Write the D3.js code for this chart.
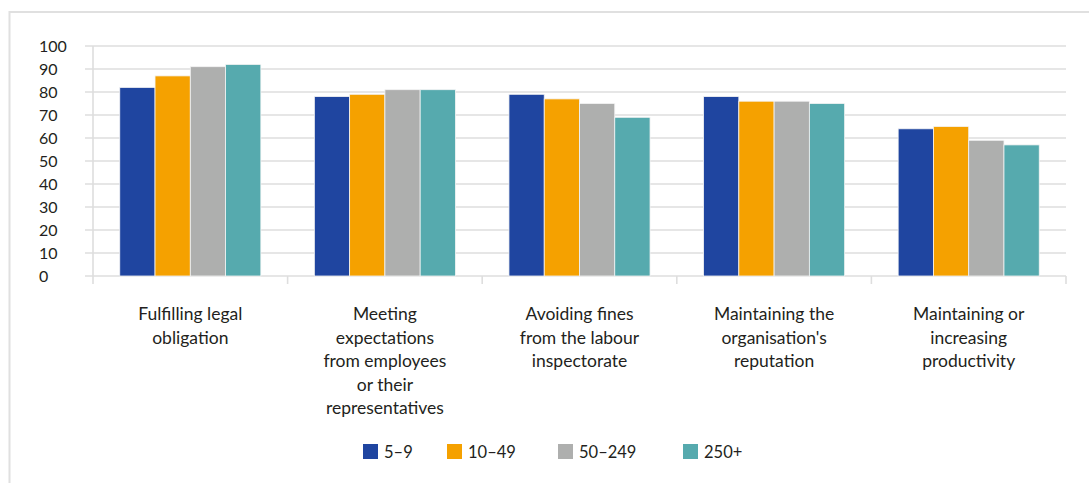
<!DOCTYPE html>
<html>
<head>
<meta charset="utf-8">
<script src="https://cdn.jsdelivr.net/npm/d3@7"></script>
<style>
  body { margin: 0; background: #fff; }
  text { font-family: "Lato", "Open Sans", sans-serif; fill: #231f20; }
</style>
</head>
<body>
<div id="chart"></div>
<script>
// chart data
const categories = [
  ['Fulfilling legal', 'obligation'],
  ['Meeting', 'expectations', 'from employees', 'or their', 'representatives'],
  ['Avoiding fines', 'from the labour', 'inspectorate'],
  ['Maintaining the', "organisation's", 'reputation'],
  ['Maintaining or', 'increasing', 'productivity']
];
const seriesNames = ['5\u20139', '10\u201349', '50\u2013249', '250+'];
const s5to9    = [82, 78, 79, 78, 64];
const s10to49  = [87, 79, 77, 76, 65];
const s50to249 = [91, 81, 75, 76, 59];
const s250plus = [92, 81, 69, 75, 57];
const yTicks = [0, 10, 20, 30, 40, 50, 60, 70, 80, 90, 100];
const colors = ['#1f45a0', '#f5a100', '#aeafae', '#56aaae'];

const width = 1089;
const height = 483;
const margin = {left: 93, right: 23, top: 46, bottom: 207};

const svg = d3.select('#chart')
  .append('svg')
  .attr('width', width)
  .attr('height', height);

// outer frame (only left and top edges show in the picture)
svg.append('rect')
  .attr('x', 9.5)
  .attr('y', 12)
  .attr('width', width + 20)
  .attr('height', height + 20)
  .style('fill', 'none')
  .style('stroke', '#e0e0e0')
  .style('stroke-width', 2);

const x0 = d3.scaleBand()
  .domain(d3.range(categories.length))
  .range([margin.left, width - margin.right])
  .paddingInner(0.275)
  .paddingOuter(0.1375);

const x1 = d3.scaleBand()
  .domain(d3.range(seriesNames.length))
  .range([0, x0.bandwidth()]);

const y = d3.scaleLinear()
  .domain([0, 100])
  .range([height - margin.bottom, margin.top]);

// gridlines
svg.append('g')
  .selectAll('line')
  .data(yTicks)
  .join('line')
  .attr('x1', margin.left - 8)
  .attr('x2', width - margin.right)
  .attr('y1', d => y(d))
  .attr('y2', d => y(d))
  .style('stroke', '#dedede')
  .style('stroke-width', 1.6);

// y axis labels (left aligned, as in the original)
svg.append('g')
  .selectAll('text')
  .data(yTicks)
  .join('text')
  .attr('x', 39)
  .attr('y', d => y(d))
  .attr('dy', '0.36em')
  .style('text-anchor', 'start')
  .style('font-size', '16px')
  .text(d => d);

// vertical axis line
svg.append('line')
  .attr('x1', margin.left).attr('x2', margin.left)
  .attr('y1', margin.top).attr('y2', y(0))
  .style('stroke', '#dedede')
  .style('stroke-width', 1.6);

// bars
const allSeries = [s5to9, s10to49, s50to249, s250plus];
const groups = svg.append('g')
  .selectAll('g')
  .data(categories.map((c, i) => allSeries.map(s => s[i])))
  .join('g')
  .attr('transform', (d, i) => 'translate(' + x0(i) + ',0)');

groups.selectAll('rect')
  .data(d => d)
  .join('rect')
  .attr('x', (d, j) => x1(j))
  .attr('y', d => y(d))
  .attr('width', x1.bandwidth())
  .attr('height', d => y(0) - y(d))
  .style('fill', (d, j) => colors[j])
  .style('stroke', '#f4f4f4')
  .style('stroke-width', 0.8);

// category separators
const step = x0.step();
svg.append('g')
  .selectAll('line')
  .data(d3.range(categories.length + 1))
  .join('line')
  .attr('x1', i => margin.left + i * step)
  .attr('x2', i => margin.left + i * step)
  .attr('y1', y(0))
  .attr('y2', y(0) + 8)
  .style('stroke', '#dedede')
  .style('stroke-width', 1.6);

// category labels
const catLabels = svg.append('g')
  .selectAll('text')
  .data(categories)
  .join('text')
  .attr('x', (d, i) => x0(i) + x0.bandwidth() / 2)
  .attr('y', 320)
  .style('text-anchor', 'middle')
  .style('font-size', '17.5px');
catLabels.selectAll('tspan')
  .data(d => d)
  .join('tspan')
  .attr('x', function() { return d3.select(this.parentNode).attr('x'); })
  .attr('dy', (d, i) => i === 0 ? 0 : 23.6)
  .text(d => d);

// legend
const legendX = [363, 447, 558, 683];
const legend = svg.append('g')
  .selectAll('g')
  .data(seriesNames)
  .join('g')
  .attr('transform', (d, i) => 'translate(' + legendX[i] + ',444)');
legend.append('rect')
  .attr('width', 15)
  .attr('height', 15)
  .style('fill', (d, i) => colors[i]);
legend.append('text')
  .attr('x', 21)
  .attr('y', 13.5)
  .style('font-size', '16.5px')
  .text(d => d);
</script>
</body>
</html>
